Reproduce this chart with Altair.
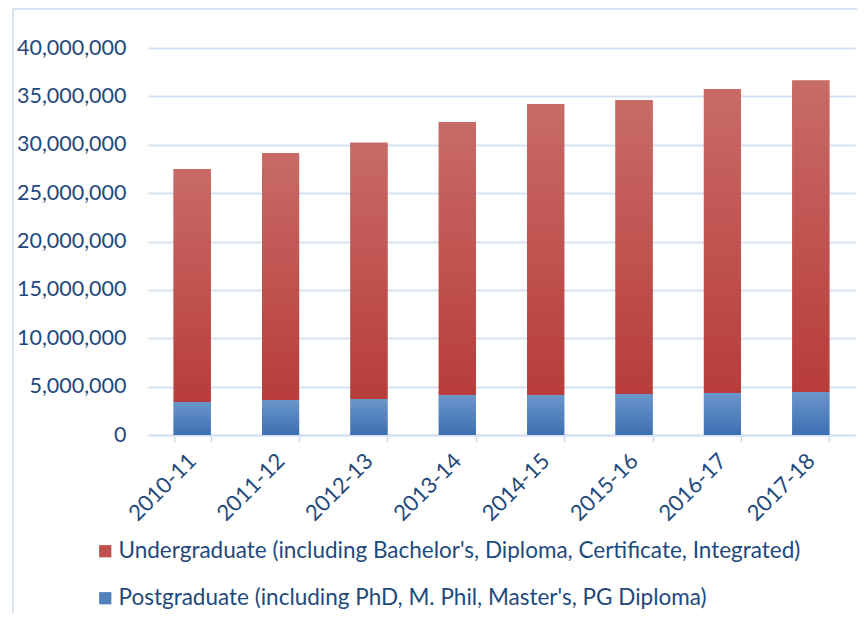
import altair as alt
import pandas as pd

years = ["2010-11", "2011-12", "2012-13", "2013-14", "2014-15", "2015-16", "2016-17", "2017-18"]
postgrad = [3410000, 3620000, 3720000, 4130000, 4130000, 4240000, 4340000, 4440000]
undergrad = [24090000, 25530000, 26480000, 28220000, 30070000, 30360000, 31410000, 32210000]
series_names = [
    "Undergraduate (including Bachelor's, Diploma, Certificate, Integrated)",
    "Postgraduate (including PhD, M. Phil, Master's, PG Diploma)",
]
y_ticks = [0, 5000000, 10000000, 15000000, 20000000, 25000000, 30000000, 35000000, 40000000]

rows = []
for yr, p, u in zip(years, postgrad, undergrad):
    rows.append({"year": yr, "series": series_names[1], "lo": 0, "hi": p})
    rows.append({"year": yr, "series": series_names[0], "lo": p, "hi": p + u})
df = pd.DataFrame(rows)

TEXT = "#1f497d"
GRID = "#d6e2f2"

x_enc = alt.X(
    "year:N",
    sort=years,
    title=None,
    scale=alt.Scale(paddingInner=0.58, paddingOuter=0.29),
    axis=alt.Axis(
        labelAngle=-45,
        labelAlign="right",
        labelBaseline="middle",
        labelPadding=15,
        tickBand="extent",
        ticks=True,
        tickSize=7,
        tickColor=GRID,
        tickWidth=2,
        domainColor=GRID,
        domainWidth=2,
        grid=False,
        labelFont="Lato",
        labelFontSize=22,
        labelColor=TEXT,
    ),
)
y_enc = alt.Y(
    "lo:Q",
    title=None,
    scale=alt.Scale(domain=[0, 40000000], nice=False),
    axis=alt.Axis(
        values=y_ticks,
        format=",d",
        ticks=False,
        domain=False,
        grid=True,
        gridColor=GRID,
        gridWidth=2,
        labelPadding=22,
        labelFont="Lato",
        labelFontSize=21.5,
        labelColor=TEXT,
    ),
)

base = alt.Chart(df).mark_bar().encode(
    x=x_enc,
    y=y_enc,
    y2="hi:Q",
    color=alt.Color(
        "series:N",
        scale=alt.Scale(domain=series_names, range=["#c0504d", "#4f81bd"]),
        legend=alt.Legend(
            title=None,
            orient="none",
            legendX=-54,
            legendY=492,
            direction="vertical",
            symbolType="square",
            symbolSize=150,
            symbolStrokeWidth=0,
            labelFont="Lato",
            labelFontSize=22.5,
            labelColor=TEXT,
            labelOffset=2,
            rowPadding=24,
            padding=0,
            labelLimit=900,
        ),
    ),
)

red_grad = alt.LinearGradient(
    gradient="linear",
    stops=[alt.GradientStop(offset=0, color="#c86b67"), alt.GradientStop(offset=1, color="#b83c3a")],
    x1=0, x2=0, y1=0, y2=1,
)
blue_grad = alt.LinearGradient(
    gradient="linear",
    stops=[alt.GradientStop(offset=0, color="#6b96cc"), alt.GradientStop(offset=1, color="#3c6fb2")],
    x1=0, x2=0, y1=0, y2=1,
)

ug_layer = alt.Chart(df).transform_filter(
    alt.datum.series == series_names[0]
).mark_bar(color=red_grad).encode(x=alt.X("year:N", sort=years), y="lo:Q", y2="hi:Q")
pg_layer = alt.Chart(df).transform_filter(
    alt.datum.series == series_names[1]
).mark_bar(color=blue_grad).encode(x=alt.X("year:N", sort=years), y="lo:Q", y2="hi:Q")

one = pd.DataFrame({"b": [0]})
border_v = alt.Chart(one).mark_rule(color=GRID, strokeWidth=2).encode(
    x=alt.value(-135), y=alt.value(-39), y2=alt.value(700)
)
border_h = alt.Chart(one).mark_rule(color=GRID, strokeWidth=2).encode(
    x=alt.value(-135), x2=alt.value(800), y=alt.value(-39)
)

chart = alt.layer(base, ug_layer, pg_layer, border_v, border_h).properties(
    width=707,
    height=387,
    autosize=alt.AutoSizeParams(type="none"),
    padding={"left": 140, "top": 40, "right": 2, "bottom": 178},
).configure_view(stroke=None)

chart.save("out.html", embed_options={"renderer": "svg", "actions": False})
